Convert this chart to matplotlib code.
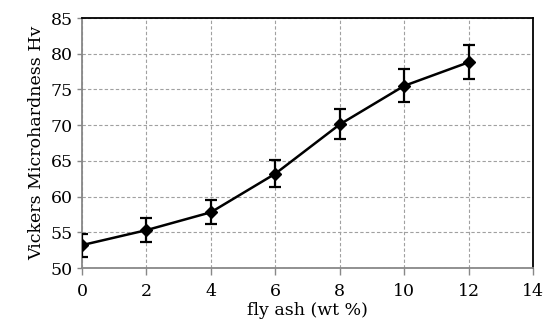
import numpy as np
import matplotlib.pyplot as plt

# dados
fly_ash = [0, 2, 4, 6, 8, 10, 12]
hardness = [53.2, 55.3, 57.8, 63.2, 70.1, 75.5, 78.8]
erro = [1.6, 1.65, 1.7, 1.9, 2.1, 2.3, 2.4]

plt.rcParams['font.family'] = ['DejaVu Serif']

fig = plt.figure(figsize=(5.5, 3.35), dpi=100)
ax = fig.add_axes([82 / 550, 1 - 268 / 335, (533 - 82) / 550, (268 - 18) / 335])

ax.errorbar(fly_ash, hardness, yerr=erro, color='black', lw=1.8,
            marker='D', markersize=6, elinewidth=1.6, capsize=4, capthick=1.6,
            zorder=3)

ax.set_xlim(0, 14)
ax.set_ylim(50, 85)
ax.set_xticks(np.arange(0, 15, 2))
ax.set_yticks(np.arange(50, 86, 5))
ax.grid(True, color='#a0a0a0', linestyle=(0, (3, 2)), linewidth=0.8)
ax.set_axisbelow(True)

for s in ['top', 'right']:
    ax.spines[s].set_color('black')
    ax.spines[s].set_linewidth(1.3)
for s in ['left', 'bottom']:
    ax.spines[s].set_color('#888888')
    ax.spines[s].set_linewidth(1.3)

ax.tick_params(axis='both', direction='out', width=1, color='#888888',
               labelsize=12.5)
ax.tick_params(axis='x', length=5, pad=6)
ax.tick_params(axis='y', length=3.5, pad=3)

ax.set_xlabel('fly ash (wt %)', fontsize=12.5, labelpad=1)
ax.set_ylabel('Vickers Microhardness Hv', fontsize=12.5, labelpad=4)

fig.savefig('out.png', dpi=100)
